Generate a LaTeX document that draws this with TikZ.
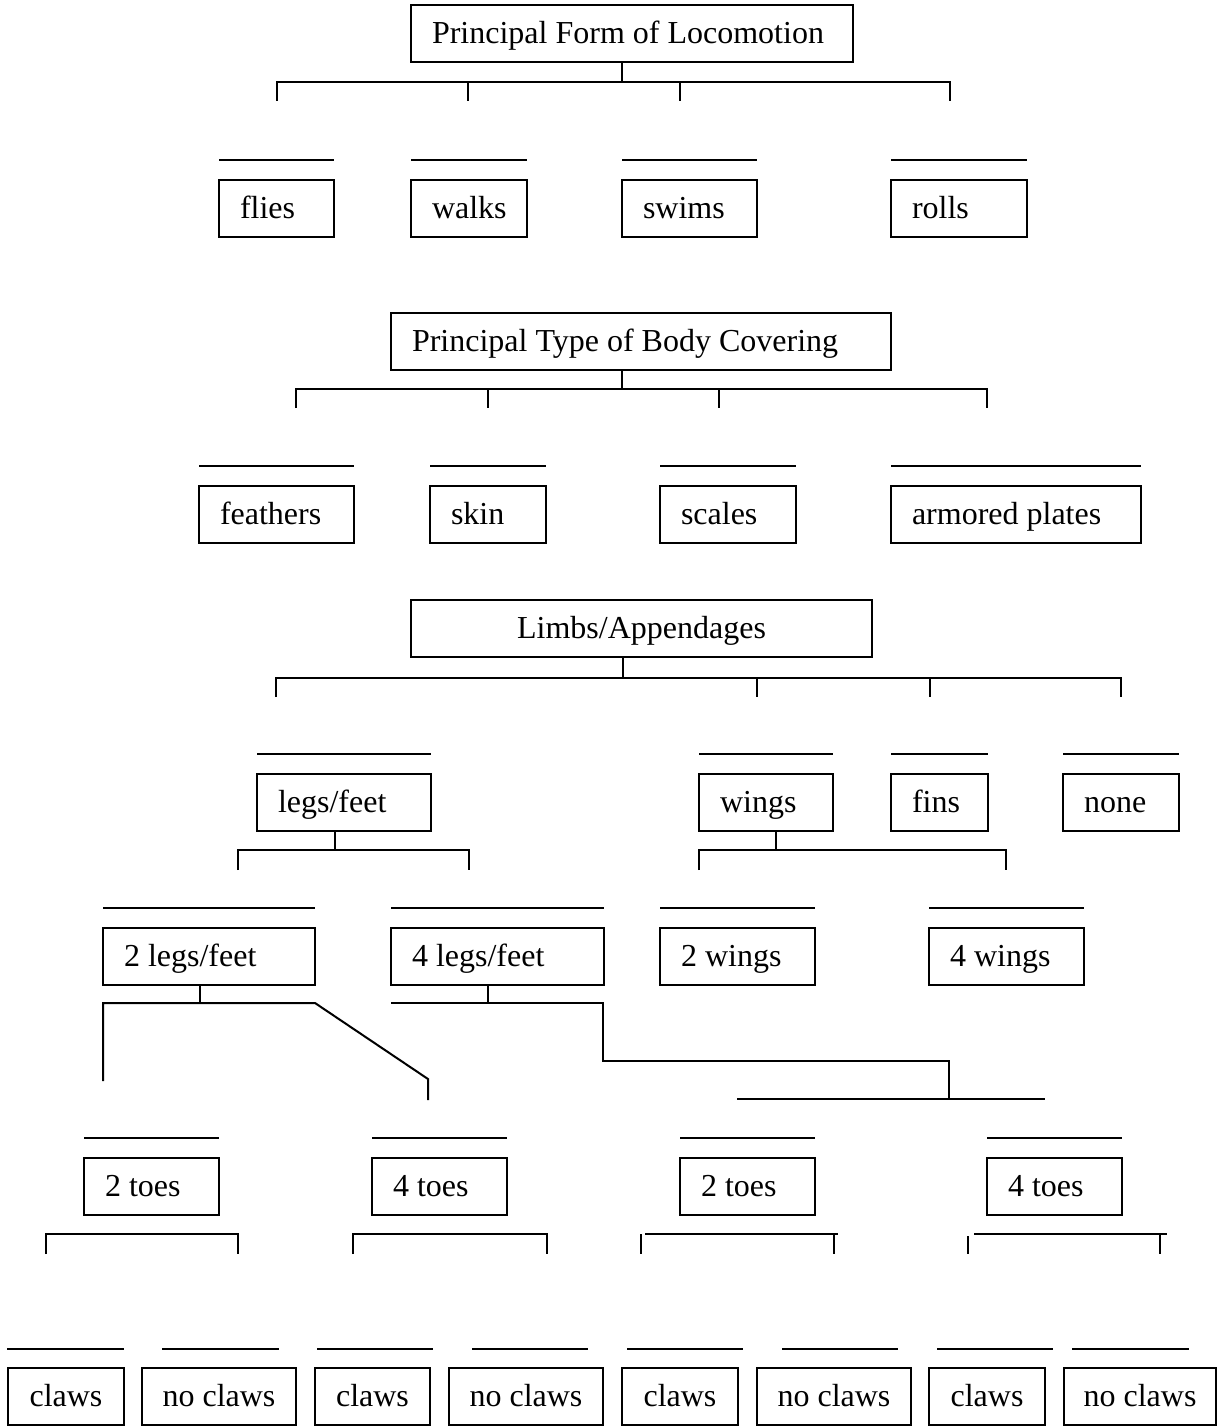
\documentclass[tikz,border=0pt]{standalone}
\usepackage{fontspec}
\setmainfont{Liberation Serif}
\begin{document}
\begin{tikzpicture}[x=1pt, y=-1pt, line width=2pt,
        font=\fontsize{32}{38}\selectfont,
        box/.style={draw, text width=#1pt, inner xsep=21pt, inner ysep=0pt,
            outer sep=0pt, minimum height=57pt, text height=26pt,
            text depth=6pt, align=flush left},
        cbox/.style={draw, minimum width=#1pt, inner xsep=0pt, inner ysep=0pt,
            outer sep=0pt, minimum height=57pt, text height=26pt,
            text depth=6pt}]
\useasboundingbox (0,0) rectangle (1217,1426);

% locomotion
\node[box=400] (loco) at (632,34) {Principal Form of Locomotion};
\node[box=73] (flies) at (276.5,208) {flies};
\node[box=74] (walks) at (469,208) {walks};
\node[box=93] (swims) at (689.5,208) {swims};
\node[box=94] (rolls) at (959,208) {rolls};
\draw (loco.south -| 622,0) -- (622,82);
\draw (277,101) -- (277,82) -- (950,82) -- (950,101);
\foreach \x in {468,680} \draw (\x,82) -- (\x,101);

% body covering
\node[box=458] (cover) at (641,341.5) {Principal Type of Body Covering};
\node[box=113] (feathers) at (276.5,514.5) {feathers};
\node[box=74] (skin) at (488,514.5) {skin};
\node[box=94] (scales) at (728,514.5) {scales};
\node[box=208] (plates) at (1016,514.5) {armored plates};
\draw (cover.south -| 622,0) -- (622,389);
\draw (296,408) -- (296,389) -- (987,389) -- (987,408);
\foreach \x in {488,719} \draw (\x,389) -- (\x,408);

% limbs
\node[cbox=461] (limbs) at (641.5,628.5) {Limbs/Appendages};
\node[box=132] (legs) at (344,802) {legs/feet};
\node[box=92] (wings) at (766,802) {wings};
\node[box=55] (fins) at (939.5,802) {fins};
\node[box=74] (none) at (1121,802) {none};
\draw (limbs.south -| 623,0) -- (623,678);
\draw (276,697) -- (276,678) -- (1121,678) -- (1121,697);
\foreach \x in {757,930} \draw (\x,678) -- (\x,697);

\node[box=170] (twolegs) at (209,956) {2 legs/feet};
\node[box=171] (fourlegs) at (497.5,956) {4 legs/feet};
\node[box=113] (twowings) at (737.5,956) {2 wings};
\node[box=113] (fourwings) at (1006.5,956) {4 wings};
\draw (legs.south -| 335,0) -- (335,850);
\draw (238,870) -- (238,850) -- (469,850) -- (469,870);
\draw (wings.south -| 776,0) -- (776,850);
\draw (699,870) -- (699,850) -- (1006,850) -- (1006,870);

% toes
\node[box=93] (twotoesA) at (151.5,1186.5) {2 toes};
\node[box=93] (fourtoesA) at (439.5,1186.5) {4 toes};
\node[box=93] (twotoesB) at (747.5,1186.5) {2 toes};
\node[box=93] (fourtoesB) at (1054.5,1186.5) {4 toes};
\draw (twolegs.south -| 200,0) -- (200,1003);
\draw (103,1081) -- (103,1003) -- (315,1003) -- (428,1079) -- (428,1100);
\draw (fourlegs.south -| 488,0) -- (488,1003);
\draw (391,1003) -- (603,1003) -- (603,1061) -- (949,1061) -- (949,1099);
\draw (737,1099) -- (1045,1099);

% claws
\draw (46,1254) -- (46,1234) -- (238,1234) -- (238,1254);
\draw (353,1254) -- (353,1234) -- (547,1234) -- (547,1254);
\draw (645,1234) -- (838,1234);
\draw (641,1234) -- (641,1254);
\draw (834,1234) -- (834,1254);
\draw (974,1234) -- (1167,1234);
\draw (968,1236) -- (968,1254);
\draw (1160,1234) -- (1160,1254);

\node[cbox=116] (clawsA) at (66,1396.5) {claws};
\node[cbox=154] (noclawsA) at (219,1396.5) {no claws};
\node[cbox=115] (clawsB) at (372.5,1396.5) {claws};
\node[cbox=154] (noclawsB) at (526,1396.5) {no claws};
\node[cbox=116] (clawsC) at (680,1396.5) {claws};
\node[cbox=154] (noclawsC) at (834,1396.5) {no claws};
\node[cbox=116] (clawsD) at (987,1396.5) {claws};
\node[cbox=152] (noclawsD) at (1140,1396.5) {no claws};

% answer lines
\foreach \n in {flies,walks,swims,rolls,feathers,skin,scales,plates,
        legs,wings,fins,none,twolegs,fourlegs,twowings,fourwings,
        twotoesA,fourtoesA,twotoesB,fourtoesB}
    \draw ([yshift=20pt]\n.north west) -- ([yshift=20pt]\n.north east);
\foreach \a/\b in {7/124,162/279,317/433,472/588,627/743,782/898,
        937/1053,1072/1189}
    \draw (\a,1349) -- (\b,1349);

\end{tikzpicture}
\end{document}
